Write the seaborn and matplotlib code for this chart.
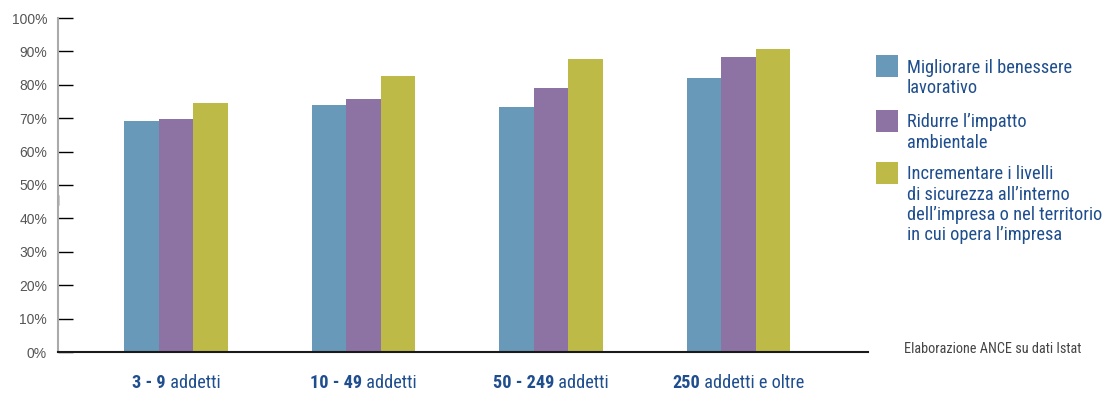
import matplotlib
matplotlib.use("Agg")
import matplotlib.pyplot as plt
from matplotlib import font_manager
from matplotlib.patches import Rectangle
import pandas as pd
import seaborn as sns

# dati
categorie_num = ['3 - 9', '10 - 49', '50 - 249', '250']
categorie_txt = [' addetti', ' addetti', ' addetti', ' addetti e oltre']
serie = ['Migliorare il benessere\nlavorativo',
         'Ridurre l\u2019impatto\nambientale',
         'Incrementare i livelli\ndi sicurezza all\u2019interno\ndell\u2019impresa o nel territorio\nin cui opera l\u2019impresa']
benessere = [69.3, 74.1, 73.5, 81.9]
ambiente = [69.9, 75.6, 78.9, 88.2]
sicurezza = [74.7, 82.5, 87.6, 90.6]
tick_labels = ['0%', '10%', '20%', '30%', '40%', '50%', '60%', '70%', '80%', '90%', '100%']

colori = ['#6899B8', '#8C73A4', '#BEBA48']
blu = '#1F4E8E'

df = pd.DataFrame({
    'cat': categorie_num * 3,
    'serie': [serie[0]] * 4 + [serie[1]] * 4 + [serie[2]] * 4,
    'val': benessere + ambiente + sicurezza,
})

sns.set_style("white")
plt.rcParams['font.family'] = ['Liberation Sans', 'DejaVu Sans']


# cerca un font stretto (narrow / condensed), altrimenti Liberation Sans
def trova_font(bold):
    cand = []
    for f in font_manager.fontManager.ttflist:
        nome = f.fname.lower()
        if ('narrow' in nome or 'condensed' in nome) and 'semi' not in nome and 'extra' not in nome \
                and 'italic' not in nome and 'light' not in nome and 'medium' not in nome \
                and 'black' not in nome and 'thin' not in nome:
            if bold == (f.weight in (700, 'bold')):
                cand.append(f.fname)
    cand.sort(key=lambda p: (0 if 'liberation' in p.lower() else 1 if 'roboto' in p.lower() else 2, len(p)))
    if cand:
        return font_manager.FontProperties(fname=cand[0])
    return font_manager.FontProperties(family='Liberation Sans', weight='bold' if bold else 'normal')


fp_reg = trova_font(False)
fp_bold = trova_font(True)

W, H = 1107, 394
fig = plt.figure(figsize=(W / 100, H / 100), dpi=100)
ax = fig.add_axes([58 / W, 1 - 352 / H, (867.7 - 58) / W, (352 - 18) / H])

sns.barplot(data=df, x='cat', y='val', hue='serie', palette=colori,
            width=0.553, gap=0, saturation=1, legend=False, linewidth=0, ax=ax)

ax.set_xlim(-0.63, 3.69)
ax.set_ylim(0, 100)
ax.set_yticks(range(0, 101, 10))
ax.set_yticklabels(tick_labels, color='#555555', fontsize=10)
ax.tick_params(axis='y', left=True, direction='in', length=10.8, width=1,
               color='black', pad=7.9)
ax.set_xticks([])
ax.set_xlabel('')
ax.set_ylabel('')
for s in ['top', 'right']:
    ax.spines[s].set_visible(False)
ax.spines['left'].set_color('#AAAAAA')
ax.spines['left'].set_linewidth(1.5)
ax.spines['bottom'].set_color('#1a1a1a')
ax.spines['bottom'].set_linewidth(1.5)
ax.spines['bottom'].set_zorder(5)

# piccolo segno sull'asse verticale, come nell'originale
ax.plot([0, 0], [44, 47], transform=ax.get_yaxis_transform(), color='black',
        lw=1, clip_on=False)

fig.canvas.draw()
r = fig.canvas.get_renderer()


# dimensione del font scelta in base alla larghezza misurata sul riferimento
def misura(testo, fp, size):
    t = fig.text(0, 0, testo, fontproperties=fp, fontsize=size)
    w = t.get_window_extent(r).width
    t.remove()
    return w


size_leg = 13 * 164 / misura('Migliorare il benessere', fp_reg, 13)
size_cat = 12 * 88 / (misura('3 - 9', fp_bold, 12) + misura(' addetti', fp_reg, 12))
size_note = 10 * 177 / misura('Elaborazione ANCE su dati Istat', fp_reg, 10)

# etichette categorie: numero in grassetto + testo normale
tr = ax.get_xaxis_transform()
for i, (n, t) in enumerate(zip(categorie_num, categorie_txt)):
    a = ax.text(i, -0.108, n, transform=tr, fontproperties=fp_bold, fontsize=size_cat,
                color=blu, va='baseline', ha='left')
    b = ax.text(i, -0.108, t, transform=tr, fontproperties=fp_reg, fontsize=size_cat,
                color=blu, va='baseline', ha='left')
    wa = a.get_window_extent(r).width
    wb = b.get_window_extent(r).width
    x0 = ax.transData.transform((i, 0))[0] - (wa + wb) / 2
    a.set_x(ax.transData.inverted().transform((x0, 0))[0])
    b.set_x(ax.transData.inverted().transform((x0 + wa, 0))[0])

# legenda
box_top = [55, 110, 162]
baselines = [[73.3, 93.3], [126.7, 148.3], [179.3, 199.7, 220, 240.3]]
for c, lab, bt, bl in zip(colori, serie, box_top, baselines):
    fig.add_artist(Rectangle((876 / W, 1 - (bt + 22) / H), 22 / W, 22 / H,
                             transform=fig.transFigure, color=c, lw=0))
    for line, y in zip(lab.split('\n'), bl):
        fig.text(906.7 / W, 1 - y / H, line, fontproperties=fp_reg, fontsize=size_leg,
                 color=blu, va='baseline', ha='left')

fig.text(904 / W, 1 - 353 / H, 'Elaborazione ANCE su dati Istat', fontproperties=fp_reg,
         fontsize=size_note, color='#444444', va='baseline', ha='left')

fig.savefig('out.png', dpi=100)
